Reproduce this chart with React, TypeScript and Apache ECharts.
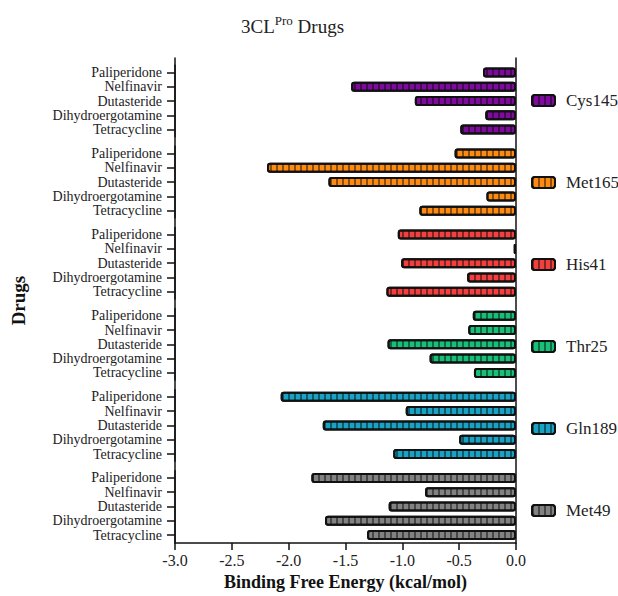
import React, { useEffect, useRef } from "react";
import * as echarts from "echarts";

const drugs = ["Paliperidone", "Nelfinavir", "Dutasteride", "Dihydroergotamine", "Tetracycline"];
const residues = ["Cys145", "Met165", "His41", "Thr25", "Gln189", "Met49"];
const cys145 = [-0.29, -1.45, -0.89, -0.27, -0.49];
const met165 = [-0.54, -2.19, -1.65, -0.26, -0.85];
const his41 = [-1.04, -0.02, -1.01, -0.43, -1.14];
const thr25 = [-0.38, -0.42, -1.13, -0.76, -0.37];
const gln189 = [-2.07, -0.97, -1.7, -0.5, -1.08];
const met49 = [-1.8, -0.8, -1.12, -1.68, -1.31];
const seriesValues = [cys145, met165, his41, thr25, gln189, met49];
const colors = ["#7d0c9c", "#ff8a12", "#f2403e", "#18bf78", "#1aa2c4", "#828282"];
const xTicks = { min: -3, max: 0, interval: 0.5 };

const FONT = "Liberation Serif";

export default function App() {
  const ref = useRef<HTMLDivElement>(null);
  useEffect(() => {
    if (!ref.current) return;
    const chart = echarts.init(ref.current, null, { renderer: "svg" });
    const first = 72.4;
    const period = 81.1;
    const step = 14.3;
    const left = 175;
    const right = 102;

    const grids: any[] = [];
    const xAxes: any[] = [];
    const yAxes: any[] = [];
    const series: any[] = [];
    const legends: any[] = [];

    residues.forEach((name, g) => {
      grids.push({ left, right, top: first + period * g - step / 2, height: step * 5 });
      xAxes.push({ type: "value", gridIndex: g, min: xTicks.min, max: xTicks.max, show: false });
      yAxes.push({
        type: "category",
        gridIndex: g,
        data: drugs,
        inverse: true,
        axisLine: { show: true, onZero: false, lineStyle: { color: "#111", width: 1.5 } },
        axisTick: { show: true, alignWithLabel: true, interval: 0, length: 8, lineStyle: { color: "#111", width: 1.5 } },
        axisLabel: { interval: 0, fontFamily: FONT, fontSize: 14, lineHeight: 14, color: "#222", margin: 13 },
      });
      series.push({
        type: "bar",
        name,
        xAxisIndex: g,
        yAxisIndex: g,
        data: seriesValues[g],
        barWidth: 10,
        itemStyle: {
          color: colors[g],
          borderColor: "#111",
          borderWidth: 2,
          borderRadius: 2,
          decal: {
            symbol: "rect",
            symbolSize: 1,
            color: "rgba(0,0,0,0.45)",
            dashArrayX: [1.2, 4],
            dashArrayY: [20, 0],
            rotation: 0,
          },
        },
      });
      legends.push({
        data: [name],
        left: 526,
        top: 97 + 82 * g - 10,
        orient: "vertical",
        itemWidth: 23,
        itemHeight: 11,
        textStyle: { fontFamily: FONT, fontSize: 17, color: "#222", padding: [0, 0, 0, 6] },
      });
    });

    const full = residues.length;
    grids.push({ left, right, top: 58, bottom: 50 });
    xAxes.push({
      type: "value",
      gridIndex: full,
      min: xTicks.min,
      max: xTicks.max,
      interval: xTicks.interval,
      splitLine: { show: false },
      axisLine: { show: true, lineStyle: { color: "#111", width: 1.5 } },
      axisTick: { show: true, length: 7, lineStyle: { color: "#111", width: 1.5 } },
      axisLabel: {
        fontFamily: FONT,
        fontSize: 16,
        color: "#222",
        margin: 9,
        formatter: (v: number) => v.toFixed(1),
      },
      name: "Binding Free Energy (kcal/mol)",
      nameLocation: "middle",
      nameGap: 28,
      nameTextStyle: { fontFamily: FONT, fontSize: 18, fontWeight: "bold", color: "#111" },
    });
    yAxes.push({
      type: "value",
      gridIndex: full,
      position: "left",
      min: 0,
      max: 1,
      splitLine: { show: false },
      axisTick: { show: false },
      axisLabel: { show: false },
      axisLine: { show: true, onZero: false, lineStyle: { color: "#111", width: 1.5 } },
      name: "Drugs",
      nameLocation: "middle",
      nameRotate: 90,
      nameGap: 147,
      nameTextStyle: { fontFamily: FONT, fontSize: 19, fontWeight: "bold", color: "#111" },
    });
    yAxes.push({
      type: "value",
      gridIndex: full,
      position: "right",
      min: 0,
      max: 1,
      splitLine: { show: false },
      axisTick: { show: false },
      axisLabel: { show: false },
      axisLine: { show: true, onZero: false, lineStyle: { color: "#111", width: 1.5 } },
    });

    chart.setOption({
      animation: false,
      backgroundColor: "#fff",
      title: {
        text: "{a|3CL}{b|Pro}{a| Drugs}",
        left: 236,
        top: 9,
        textStyle: {
          fontWeight: "normal",
          rich: {
            a: { fontFamily: FONT, fontSize: 19, fontWeight: "normal", color: "#222" },
            b: { fontFamily: FONT, fontSize: 13, fontWeight: "normal", color: "#222", padding: [0, 0, 11, 0] },
          },
        },
      },
      legend: legends,
      grid: grids,
      xAxis: xAxes,
      yAxis: yAxes,
      series,
    });
    return () => chart.dispose();
  }, []);
  return (
    <div
      ref={ref}
      style={{ position: "fixed", left: 0, top: 0, width: 618, height: 596, background: "#fff" }}
    />
  );
}
